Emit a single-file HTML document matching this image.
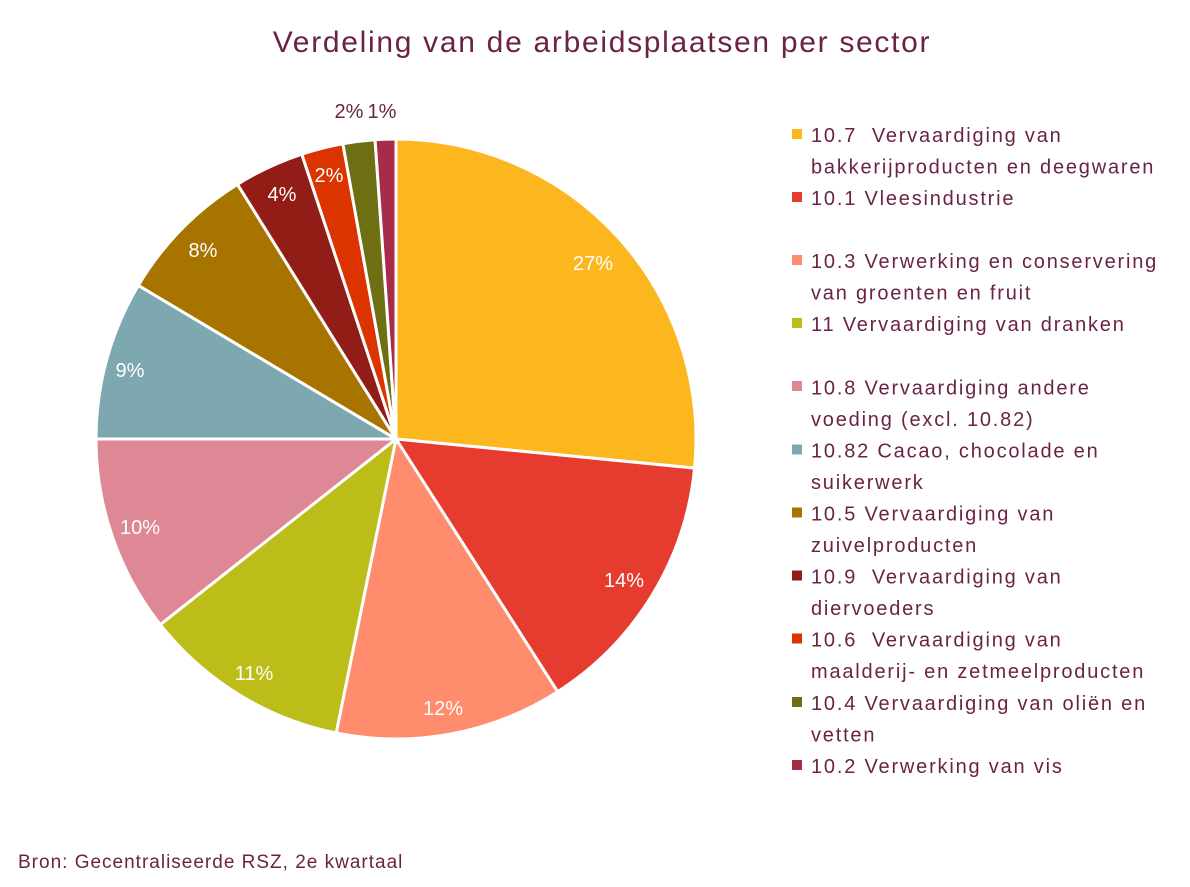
<!DOCTYPE html>
<html>
<head>
<meta charset="utf-8">
<style>
  html,body{margin:0;padding:0;background:#fff;}
  body{width:1190px;height:887px;overflow:hidden;}
  svg{display:block;}
  text{font-family:"Liberation Sans","DejaVu Sans",sans-serif;white-space:pre;}
  .lg{font-size:20px;fill:#6a2346;letter-spacing:1.8px;}
  .pl{font-size:20px;fill:#ffffff;text-anchor:middle;}
</style>
</head>
<body>
<svg width="1190" height="887" viewBox="0 0 1190 887" xmlns="http://www.w3.org/2000/svg">
  <rect x="0" y="0" width="1190" height="887" fill="#ffffff"/>
  <text x="602" y="52" text-anchor="middle" style="font-size:30px;fill:#6a2346;letter-spacing:1.7px;">Verdeling van de arbeidsplaatsen per sector</text>

  <g stroke="#ffffff" stroke-width="3" stroke-linejoin="round">
    <path d="M396,439 L396,139 A300,300 0 0 1 694.59,468.07 Z" fill="#FDB71E"/>
    <path d="M396,439 L694.59,468.07 A300,300 0 0 1 557.63,691.74 Z" fill="#E63C30"/>
    <path d="M396,439 L557.63,691.74 A300,300 0 0 1 336.19,732.98 Z" fill="#FF8C6C"/>
    <path d="M396,439 L336.19,732.98 A300,300 0 0 1 160.24,624.52 Z" fill="#BDBD19"/>
    <path d="M396,439 L160.24,624.52 A300,300 0 0 1 96,439 Z" fill="#DE8795"/>
    <path d="M396,439 L96,439 A300,300 0 0 1 138.31,285.38 Z" fill="#7DA8AF"/>
    <path d="M396,439 L138.31,285.38 A300,300 0 0 1 237.47,184.31 Z" fill="#A87400"/>
    <path d="M396,439 L237.47,184.31 A300,300 0 0 1 301.80,154.17 Z" fill="#921C16"/>
    <path d="M396,439 L301.80,154.17 A300,300 0 0 1 342.88,143.74 Z" fill="#DC3400"/>
    <path d="M396,439 L342.88,143.74 A300,300 0 0 1 375.07,139.73 Z" fill="#6E6E12"/>
    <path d="M396,439 L375.07,139.73 A300,300 0 0 1 396,139 Z" fill="#A82C49"/>
  </g>

  <text class="pl" x="593" y="270">27%</text>
  <text class="pl" x="624" y="587">14%</text>
  <text class="pl" x="443" y="715">12%</text>
  <text class="pl" x="254" y="680">11%</text>
  <text class="pl" x="140" y="534">10%</text>
  <text class="pl" x="130" y="377">9%</text>
  <text class="pl" x="203" y="257">8%</text>
  <text class="pl" x="282" y="201">4%</text>
  <text class="pl" x="329" y="182">2%</text>
  <text x="349" y="118" text-anchor="middle" style="font-size:20px;fill:#6a2346;">2%</text>
  <text x="382" y="118" text-anchor="middle" style="font-size:20px;fill:#6a2346;">1%</text>

  <!-- legend -->
  <g>
    <rect x="792" y="129" width="10" height="10" fill="#FDB71E"/>
    <text class="lg" x="811" y="142">10.7  Vervaardiging van</text>
    <text class="lg" x="811" y="173.5">bakkerijproducten en deegwaren</text>
    <rect x="792" y="192" width="10" height="10" fill="#E63C30"/>
    <text class="lg" x="811" y="205">10.1 Vleesindustrie</text>

    <rect x="792" y="255" width="10" height="10" fill="#FF8C6C"/>
    <text class="lg" x="811" y="268">10.3 Verwerking en conservering</text>
    <text class="lg" x="811" y="299.5">van groenten en fruit</text>
    <rect x="792" y="318" width="10" height="10" fill="#BDBD19"/>
    <text class="lg" x="811" y="331">11 Vervaardiging van dranken</text>

    <rect x="792" y="381" width="10" height="10" fill="#DE8795"/>
    <text class="lg" x="811" y="394.5">10.8 Vervaardiging andere</text>
    <text class="lg" x="811" y="426">voeding (excl. 10.82)</text>
    <rect x="792" y="444.5" width="10" height="10" fill="#7DA8AF"/>
    <text class="lg" x="811" y="457.5">10.82 Cacao, chocolade en</text>
    <text class="lg" x="811" y="489">suikerwerk</text>
    <rect x="792" y="507.5" width="10" height="10" fill="#A87400"/>
    <text class="lg" x="811" y="520.5">10.5 Vervaardiging van</text>
    <text class="lg" x="811" y="552">zuivelproducten</text>
    <rect x="792" y="570.5" width="10" height="10" fill="#921C16"/>
    <text class="lg" x="811" y="583.5">10.9  Vervaardiging van</text>
    <text class="lg" x="811" y="615">diervoeders</text>
    <rect x="792" y="633.5" width="10" height="10" fill="#DC3400"/>
    <text class="lg" x="811" y="646.5">10.6  Vervaardiging van</text>
    <text class="lg" x="811" y="678">maalderij- en zetmeelproducten</text>
    <rect x="792" y="697" width="10" height="10" fill="#6E6E12"/>
    <text class="lg" x="811" y="710">10.4 Vervaardiging van oliën en</text>
    <text class="lg" x="811" y="741.5">vetten</text>
    <rect x="792" y="760" width="10" height="10" fill="#A82C49"/>
    <text class="lg" x="811" y="773">10.2 Verwerking van vis</text>
  </g>

  <text x="18" y="868" style="font-size:19px;fill:#6a2346;letter-spacing:1px;">Bron: Gecentraliseerde RSZ, 2e kwartaal</text>
</svg>
</body>
</html>
